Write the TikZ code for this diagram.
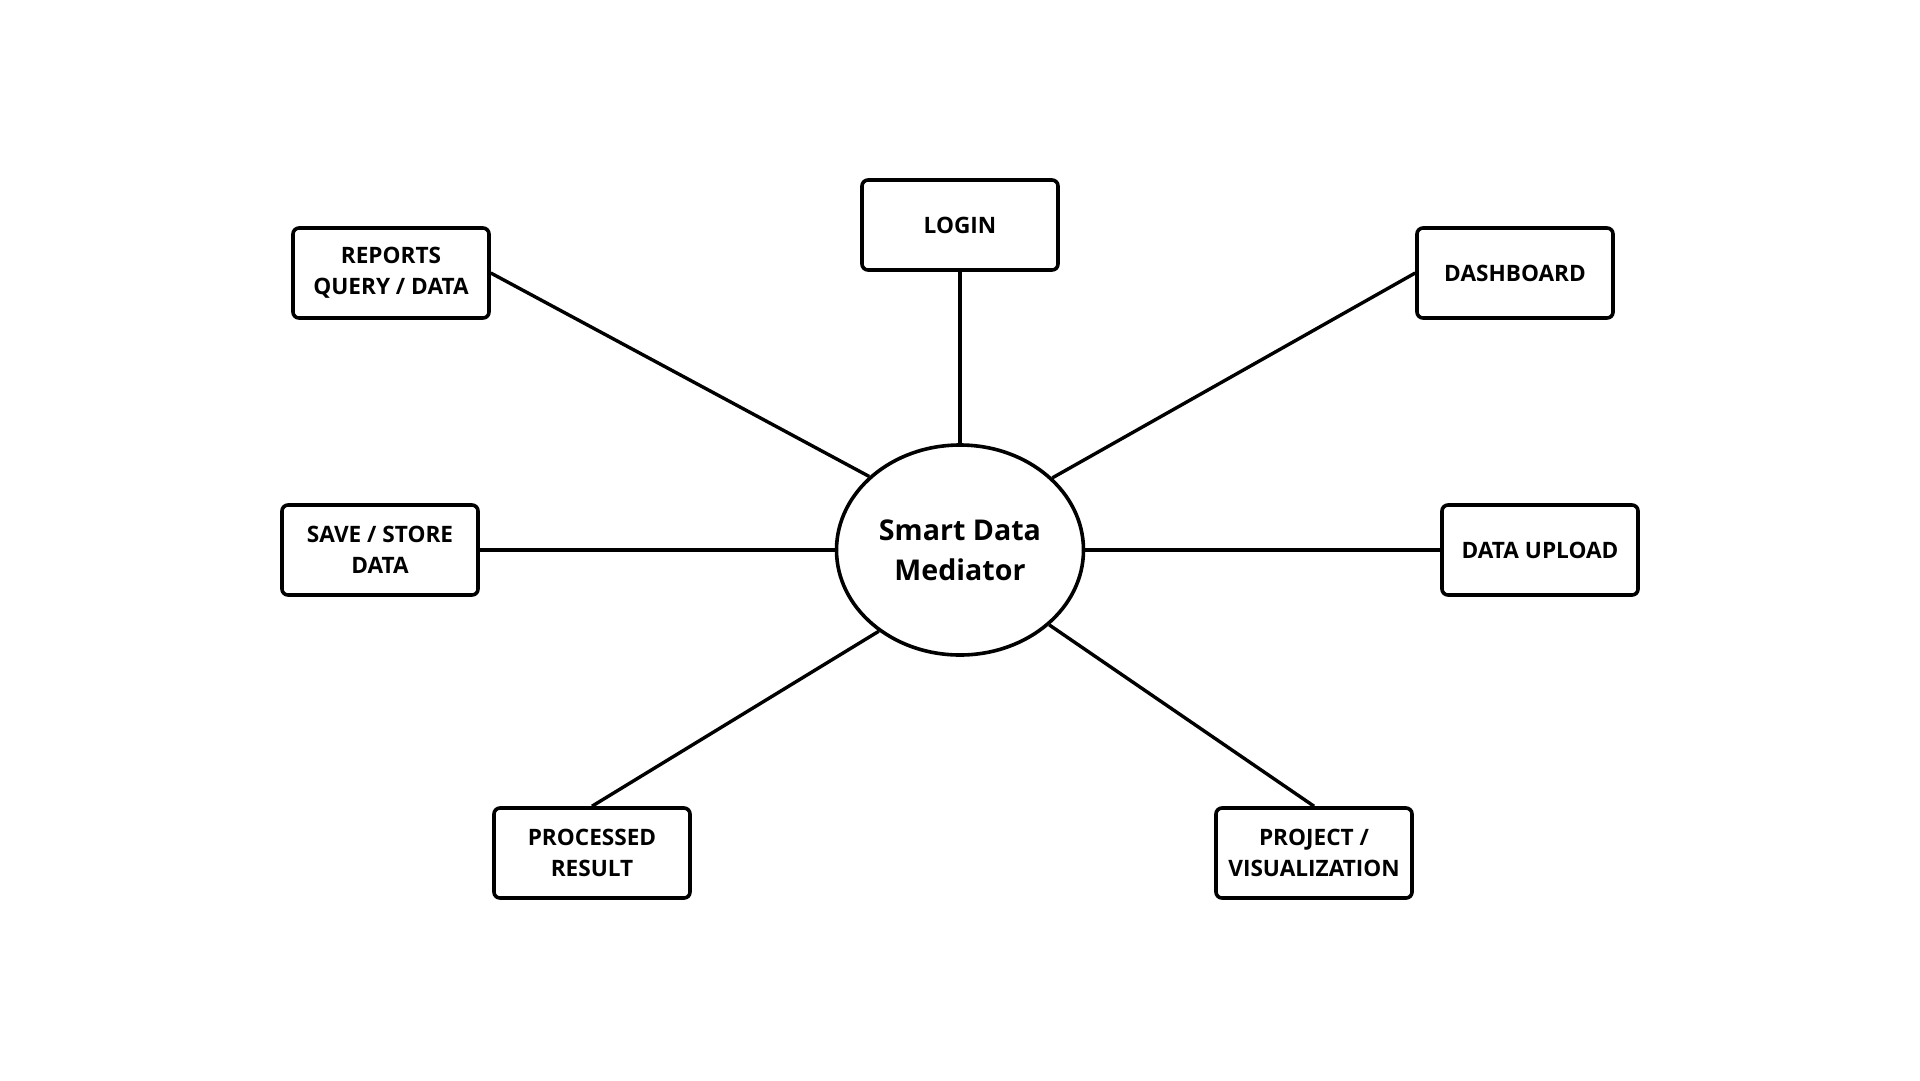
\documentclass[tikz,border=0pt]{standalone}
\usepackage{fontspec}
\setmainfont{Open Sans}
\usetikzlibrary{shapes.geometric}
\begin{document}
\begin{tikzpicture}[x=1pt,y=-1pt,
  box/.style={draw=black, line width=3.6pt, rounded corners=6pt, fill=white,
    minimum width=196pt, minimum height=90pt, align=center, inner sep=0pt,
    font=\fontsize{22.6}{31}\selectfont\bfseries},
  hub/.style={draw=black, line width=3.6pt, ellipse, fill=white,
    minimum width=247pt, minimum height=210pt, inner sep=0pt, align=center,
    font=\fontsize{28.6}{40}\selectfont\bfseries},
  link/.style={line width=3.4pt}]
\fill[white] (0,0) rectangle (1920,1080);
\useasboundingbox (0,0) rectangle (1920,1080);

\node[hub] (c) at (960,550) {Smart Data\\Mediator};
\node[box] (login) at (960,225) {LOGIN};
\node[box] (rep) at (391,273) {REPORTS\\QUERY / DATA};
\node[box] (dash) at (1515,273) {DASHBOARD};
\node[box] (save) at (380,550) {SAVE / STORE\\DATA};
\node[box] (up) at (1540,550) {DATA UPLOAD};
\node[box] (proc) at (592,853) {PROCESSED\\RESULT};
\node[box] (proj) at (1314,853) {PROJECT /\\VISUALIZATION};

\draw[link] (login.south) -- (c.north);
\draw[link] (rep.east) -- (c.141);
\draw[link] (dash.west) -- (c.38);
\draw[link] (save.east) -- (c.west);
\draw[link] (up.west) -- (c.east);
\draw[link] (proc.north) -- (c.225.5);
\draw[link] (proj.north) -- (c.320);
\end{tikzpicture}
\end{document}
